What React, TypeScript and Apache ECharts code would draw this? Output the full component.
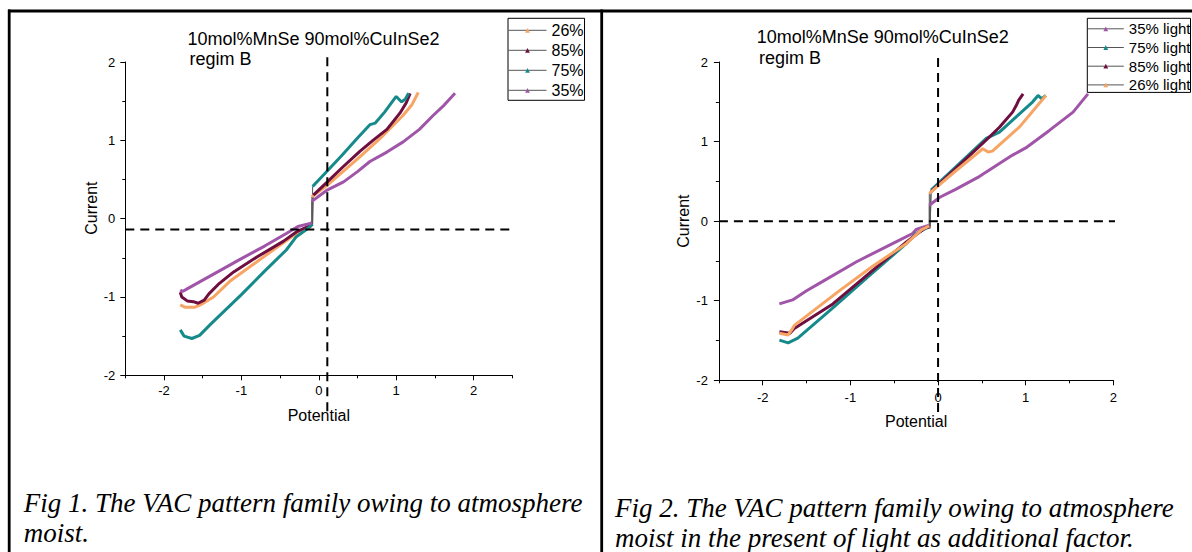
import React, { useEffect, useRef } from "react";
import * as echarts from "echarts";

// ---------- Data ----------
const fig1Legend = ["26%", "85%", "75%", "35%"];
const fig2Legend = ["35% light", "75% light", "85% light", "26% light"];

const majorTicks = [-2, -1, 0, 1, 2];
const fig1XMinor = [-2.5, -1.5, -0.5, 0.5, 1.5, 2.5];
const fig2XMinor = [-2.5, -1.5, -0.5, 0.5, 1.5];
const yMinor = [-1.5, -0.5, 0.5, 1.5];

// Fig 1 – branches as [Potential, Current]
const f1_26_neg = [[-1.79, -1.1], [-1.73, -1.13], [-1.6, -1.13], [-1.51, -1.09], [-1.36, -1.0], [-1.15, -0.8], [-0.59, -0.4], [-0.29, -0.19], [-0.14, -0.12], [-0.09, -0.09]];
const f1_26_pos = [[-0.09, 0.28], [0.1, 0.42], [0.3, 0.59], [0.53, 0.79], [0.8, 1.03], [1.09, 1.32], [1.2, 1.45], [1.285, 1.61]];
const f1_85_neg = [[-1.79, -0.94], [-1.77, -1.0], [-1.7, -1.05], [-1.62, -1.06], [-1.56, -1.08], [-1.48, -1.04], [-1.42, -0.96], [-1.3, -0.84], [-1.1, -0.68], [-0.8, -0.49], [-0.46, -0.29], [-0.29, -0.17], [-0.14, -0.1], [-0.08, -0.07]];
const f1_85_pos = [[-0.07, 0.3], [0.1, 0.46], [0.3, 0.65], [0.53, 0.86], [0.7, 1.0], [0.88, 1.14], [1.05, 1.35], [1.13, 1.48], [1.18, 1.6]];
const f1_75_neg = [[-1.79, -1.42], [-1.74, -1.5], [-1.64, -1.53], [-1.54, -1.49], [-1.4, -1.35], [-1.0, -0.97], [-0.7, -0.67], [-0.42, -0.4], [-0.29, -0.23], [-0.16, -0.14], [-0.08, -0.07]];
const f1_75_pos = [[-0.08, 0.41], [0.1, 0.6], [0.3, 0.81], [0.5, 1.03], [0.66, 1.2], [0.73, 1.22], [0.85, 1.36], [1.0, 1.56], [1.07, 1.49], [1.12, 1.53], [1.16, 1.6]];
const f1_35_neg = [[-1.79, -0.91], [-1.76, -0.93], [-1.69, -0.89], [-1.4, -0.73], [-1.0, -0.51], [-0.7, -0.35], [-0.42, -0.19], [-0.27, -0.1], [-0.11, -0.06], [-0.09, -0.05]];
const f1_35_pos = [[-0.09, 0.22], [0.1, 0.36], [0.32, 0.47], [0.5, 0.6], [0.66, 0.73], [0.88, 0.85], [1.09, 0.98], [1.3, 1.14], [1.48, 1.32], [1.62, 1.45], [1.76, 1.6]];

// Fig 2 – branches as [Potential, Current]
const f2_35_neg = [[-1.81, -1.04], [-1.66, -0.99], [-1.5, -0.875], [-1.32, -0.76], [-0.93, -0.51], [-0.48, -0.26], [-0.29, -0.155], [-0.25, -0.105], [-0.1, -0.05]];
const f2_35_pos = [[-0.1, 0.2], [0.02, 0.3], [0.2, 0.4], [0.47, 0.56], [0.85, 0.83], [1.0, 0.92], [1.27, 1.14], [1.54, 1.37], [1.71, 1.6]];
const f2_75_neg = [[-1.81, -1.495], [-1.71, -1.53], [-1.6, -1.47], [-1.2, -1.09], [-0.8, -0.7], [-0.36, -0.28], [-0.25, -0.155], [-0.14, -0.09], [-0.09, -0.07]];
const f2_75_pos = [[-0.08, 0.39], [0.2, 0.68], [0.55, 1.04], [0.7, 1.12], [0.85, 1.27], [1.08, 1.5], [1.14, 1.58], [1.18, 1.54], [1.23, 1.58]];
const f2_85_neg = [[-1.81, -1.39], [-1.69, -1.41], [-1.64, -1.35], [-1.2, -1.04], [-0.8, -0.67], [-0.36, -0.26], [-0.14, -0.08], [-0.09, -0.07]];
const f2_85_pos = [[-0.08, 0.37], [0.2, 0.66], [0.55, 1.02], [0.7, 1.18], [0.85, 1.37], [0.89, 1.45], [0.92, 1.52], [0.97, 1.6]];
const f2_26_neg = [[-1.81, -1.41], [-1.71, -1.43], [-1.66, -1.35], [-1.64, -1.31], [-1.12, -0.87], [-0.75, -0.57], [-0.36, -0.28], [-0.19, -0.11], [-0.1, -0.06]];
const f2_26_pos = [[-0.1, 0.35], [0.2, 0.63], [0.51, 0.91], [0.57, 0.87], [0.62, 0.88], [0.93, 1.185], [1.23, 1.58]];

// Dashed reference lines
const f1_vLine = [[0.11, 2.06], [0.11, -2.51]];
const f1_hLine = [[-2.5, -0.14], [2.7, -0.14]];
const f2_vLine = [[0, 2.05], [0, -2.46]];
const f2_hLine = [[-2.5, 0], [2.27, 0]];

// ---------- Styles ----------
const SANS = "'Liberation Sans', Arial, sans-serif";
const SERIF = "'Liberation Serif', 'Times New Roman', serif";
const C_ORANGE = "#F7A564";
const C_MAROON = "#6E0F3F";
const C_TEAL = "#168A8A";
const C_PURPLE = "#A055A8";

function curve(name: string, color: string, neg: number[][], pos: number[][], axis: number) {
  const base = {
    type: "line",
    name,
    xAxisIndex: axis,
    yAxisIndex: axis,
    showSymbol: false,
    symbol: "triangle",
    symbolSize: 5,
    color,
    lineStyle: { color, width: 3 },
    itemStyle: { color },
    silent: true,
    z: 3,
  };
  return [
    { ...base, data: neg },
    { ...base, data: pos },
    {
      type: "line",
      name: name + " link",
      xAxisIndex: axis,
      yAxisIndex: axis,
      showSymbol: false,
      symbol: "none",
      lineStyle: { color: "#555", width: 1 },
      silent: true,
      z: 2,
      data: [neg[neg.length - 1], pos[0]],
    },
  ];
}

function dashed(data: number[][], axis: number) {
  return {
    type: "line",
    name: "ref",
    xAxisIndex: axis,
    yAxisIndex: axis,
    data,
    clip: false,
    showSymbol: false,
    symbol: "none",
    silent: true,
    z: 5,
    lineStyle: { color: "#000", width: 2, type: [9, 6] },
  };
}

function xAxes(grid: number, max: number, minor: number[], nameGap: number, labelMargin: number) {
  return [
    {
      type: "value",
      gridIndex: grid,
      position: "bottom",
      min: -2.5,
      max,
      name: "Potential",
      nameLocation: "middle",
      nameGap,
      nameTextStyle: { fontSize: 16, fontFamily: SANS, color: "#000" },
      axisLine: { show: true, onZero: false, lineStyle: { color: "#000", width: 1 } },
      axisTick: { show: true, length: 5, customValues: majorTicks, lineStyle: { color: "#000" } },
      axisLabel: { customValues: majorTicks, fontSize: 13, fontFamily: SANS, color: "#000", margin: labelMargin },
      splitLine: { show: false },
    },
    {
      type: "value",
      gridIndex: grid,
      position: "bottom",
      min: -2.5,
      max,
      axisLine: { show: false, onZero: false },
      axisTick: { show: true, length: 3, customValues: minor, lineStyle: { color: "#000" } },
      axisLabel: { show: false },
      splitLine: { show: false },
    },
  ];
}

function yAxes(grid: number, nameGap: number, labelMargin: number, namePad: number[]) {
  return [
    {
      type: "value",
      gridIndex: grid,
      position: "left",
      min: -2,
      max: 2,
      name: "Current",
      nameLocation: "middle",
      nameGap,
      nameTextStyle: { fontSize: 16, fontFamily: SANS, color: "#000", padding: namePad },
      axisLine: { show: true, onZero: false, lineStyle: { color: "#000", width: 1 } },
      axisTick: { show: true, length: 5, customValues: majorTicks, lineStyle: { color: "#000" } },
      axisLabel: { customValues: majorTicks, fontSize: 13, fontFamily: SANS, color: "#000", margin: labelMargin },
      splitLine: { show: false },
    },
    {
      type: "value",
      gridIndex: grid,
      position: "left",
      min: -2,
      max: 2,
      axisLine: { show: false, onZero: false },
      axisTick: { show: true, length: 3, customValues: yMinor, lineStyle: { color: "#000" } },
      axisLabel: { show: false },
      splitLine: { show: false },
    },
  ];
}

function legend(data: string[], left: number, top: number, itemWidth: number, fontSize: number, gap: number, padding: number[]) {
  return {
    data,
    orient: "vertical",
    left,
    top,
    itemWidth,
    itemHeight: 6,
    itemGap: gap,
    padding,
    borderColor: "#000",
    borderWidth: 1,
    backgroundColor: "#fff",
    selectedMode: false,
    textStyle: { fontSize, fontFamily: SANS, color: "#000" },
    lineStyle: { color: "#555", width: 1 },
  };
}

function text(str: string, x: number, y: number, size: number, family: string, italic = false) {
  return {
    type: "text",
    x,
    y,
    silent: true,
    style: {
      text: str,
      fontSize: size,
      fontFamily: family,
      fontStyle: italic ? "italic" : "normal",
      fill: "#000",
      align: "left",
      verticalAlign: "middle",
      textAlign: "left",
      textVerticalAlign: "middle",
    },
  };
}

function frame(x1: number, y1: number, x2: number, y2: number) {
  return { type: "line", silent: true, shape: { x1, y1, x2, y2 }, style: { stroke: "#000", lineWidth: 2.8 } };
}

const option: any = {
  animation: false,
  backgroundColor: "#fff",
  grid: [
    { left: 125.3, top: 62, width: 387, height: 313.3, containLabel: false, outerBoundsMode: "none" },
    { left: 718.9, top: 62, width: 394.5, height: 318.3, containLabel: false, outerBoundsMode: "none" },
  ],
  xAxis: [...xAxes(0, 2.5, fig1XMinor, 32, 9), ...xAxes(1, 2, fig2XMinor, 33, 11)],
  yAxis: [...yAxes(0, 25, 10, [0, 0, 0, 21]), ...yAxes(1, 27, 11, [0, 0, 0, 0])],
  legend: [
    legend(fig1Legend, 508, 18.3, 38, 16, 4, [4, 1, 2, 0]),
    legend(fig2Legend, 1087.3, 18.3, 36, 15, 3.7, [3, 0, 0, 0]),
  ],
  series: [
    ...curve("26%", C_ORANGE, f1_26_neg, f1_26_pos, 0),
    ...curve("85%", C_MAROON, f1_85_neg, f1_85_pos, 0),
    ...curve("75%", C_TEAL, f1_75_neg, f1_75_pos, 0),
    ...curve("35%", C_PURPLE, f1_35_neg, f1_35_pos, 0),
    dashed(f1_vLine, 0),
    dashed(f1_hLine, 0),
    ...curve("35% light", C_PURPLE, f2_35_neg, f2_35_pos, 2),
    ...curve("75% light", C_TEAL, f2_75_neg, f2_75_pos, 2),
    ...curve("85% light", C_MAROON, f2_85_neg, f2_85_pos, 2),
    ...curve("26% light", C_ORANGE, f2_26_neg, f2_26_pos, 2),
    dashed(f2_vLine, 2),
    dashed(f2_hLine, 2),
  ],
  graphic: [
    frame(8, 11, 1192, 11),
    frame(9.2, 9.6, 9.2, 552),
    frame(601.7, 9.6, 601.7, 552),
    text("10mol%MnSe 90mol%CuInSe2", 187.5, 38.5, 18, SANS),
    text("regim B", 189.5, 59, 18, SANS),
    text("10mol%MnSe 90mol%CuInSe2", 756.7, 37, 18, SANS),
    text("regim B", 759, 57.5, 18, SANS),
    text("Fig 1. The VAC pattern family owing to atmosphere", 23.7, 503, 27, SERIF, true),
    text("moist.", 23.7, 533, 27, SERIF, true),
    text("Fig 2. The VAC pattern family owing to atmosphere", 615, 508, 27, SERIF, true),
    text("moist in the present of light as additional factor.", 615, 537.5, 27, SERIF, true),
  ],
};

export default function App() {
  const ref = useRef<HTMLDivElement>(null);
  useEffect(() => {
    if (!ref.current) return;
    const chart = echarts.init(ref.current, null, { renderer: "svg" });
    chart.setOption(option);
    return () => chart.dispose();
  }, []);
  return (
    <div
      ref={ref}
      style={{ position: "fixed", left: 0, top: 0, width: 1192, height: 552, background: "#fff" }}
    />
  );
}
